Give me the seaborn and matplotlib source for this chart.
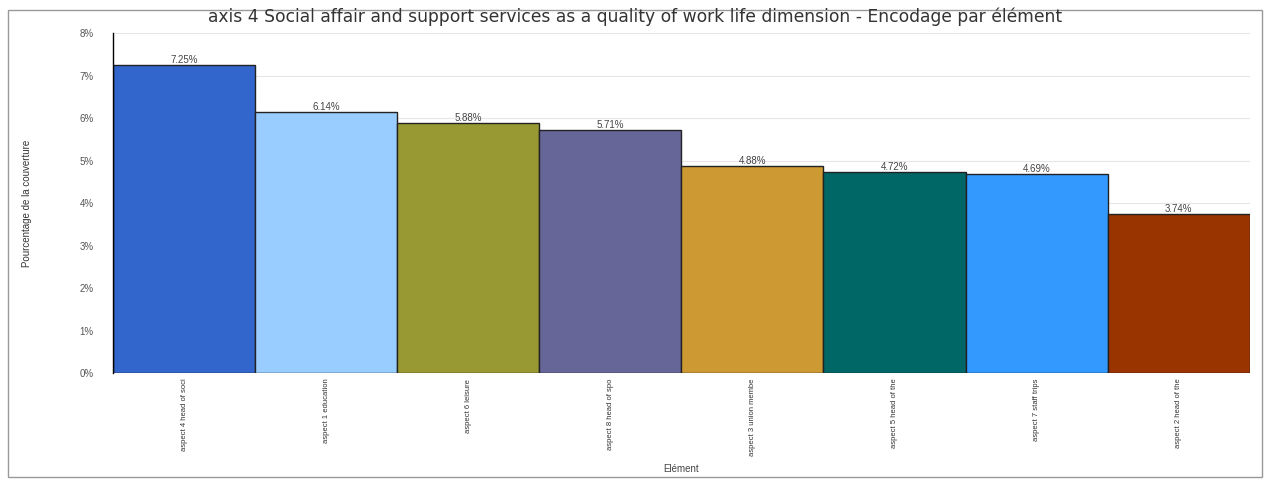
import matplotlib
matplotlib.use("Agg")
import matplotlib.pyplot as plt
import seaborn as sns
import pandas as pd
from matplotlib.ticker import FuncFormatter
from matplotlib.patches import Rectangle

categories = ["aspect 4 head of soci", "aspect 1 education", "aspect 6 leisure",
              "aspect 8 head of spo", "aspect 3 union membe", "aspect 5 head of the",
              "aspect 7 staff trips", "aspect 2 head of the"]
values = [7.25, 6.14, 5.88, 5.71, 4.88, 4.72, 4.69, 3.74]
colors = ["#3366cc", "#99ccff", "#999933", "#666699", "#cc9933", "#006666", "#3399ff", "#993300"]
title = "axis 4 Social affair and support services as a quality of work life dimension - Encodage par élément"

df = pd.DataFrame({"cat": categories, "val": values})

sns.set_style("white")
plt.rcParams['font.family'] = ['Liberation Sans', 'DejaVu Sans']

fig = plt.figure(figsize=(12.7, 4.79), dpi=100)
ax = fig.add_axes([0.089, 0.221, 0.895, 0.710])

sns.barplot(data=df, x="cat", y="val", hue="cat", palette=colors, legend=False,
            width=1.0, edgecolor="#222222", linewidth=1.0, ax=ax, saturation=1)

ax.set_ylim(0, 8)
ax.set_xlim(-0.5, len(categories) - 0.5)
ax.set_yticks(range(0, 9))
ax.yaxis.set_major_formatter(FuncFormatter(lambda v, p: f"{int(v)}%"))
ax.tick_params(axis='y', labelsize=7, colors="#555555", length=0, pad=14)
ax.tick_params(axis='x', labelsize=5.5, colors="#333333", length=0, pad=4)
plt.setp(ax.get_xticklabels(), rotation=90)
ax.grid(axis='y', color="#e6e6e6", linewidth=0.8)
ax.set_axisbelow(True)
for s in ["top", "right", "bottom"]:
    ax.spines[s].set_visible(False)
ax.spines["left"].set_color("#000000")
ax.spines["left"].set_linewidth(1.0)

for p in ax.patches:
    h = p.get_height()
    if h and h > 0:
        ax.text(p.get_x() + p.get_width() / 2, h, f"{h:.2f}%", ha="center", va="bottom",
                fontsize=7, color="#444444")

ax.set_xlabel("Elément", fontsize=7, color="#444444", labelpad=6)
ax.set_ylabel("Pourcentage de la couverture", fontsize=7, color="#333333", labelpad=34)
fig.suptitle(title, fontsize=12.3, color="#333333", y=0.985, family=["DejaVu Sans"])

fig.patches.append(Rectangle((0.006, 0.005), 0.988, 0.975, transform=fig.transFigure,
                             fill=False, edgecolor="#999999", linewidth=1.0))

fig.savefig("out.png", dpi=100)
